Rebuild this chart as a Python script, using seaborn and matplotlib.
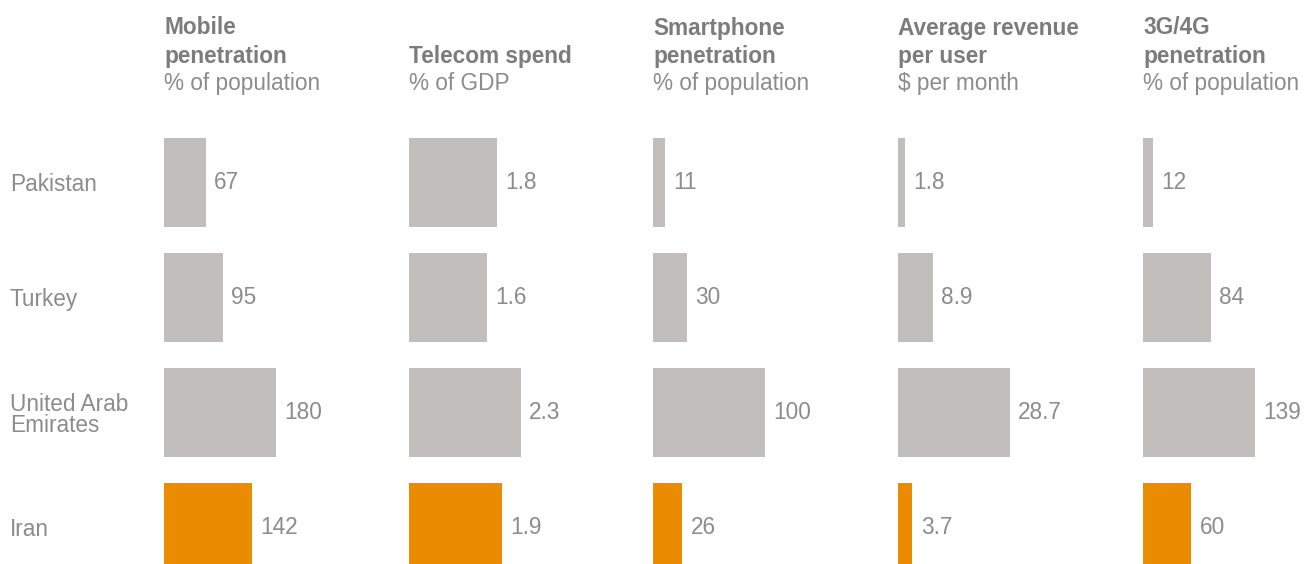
import matplotlib
matplotlib.use("Agg")
import matplotlib.pyplot as plt
import matplotlib.transforms as mtransforms
import pandas as pd
import seaborn as sns

# Data
countries = ["Pakistan", "Turkey", "United Arab\nEmirates", "Iran"]
mobile_penetration = [67, 95, 180, 142]
telecom_spend = [1.8, 1.6, 2.3, 1.9]
smartphone_penetration = [11, 30, 100, 26]
arpu = [1.8, 8.9, 28.7, 3.7]
g34_penetration = [12, 84, 139, 60]

titles_bold = [["Mobile", "penetration"], ["Telecom spend"], ["Smartphone", "penetration"],
               ["Average revenue", "per user"], ["3G/4G", "penetration"]]
titles_unit = ["% of population", "% of GDP", "% of population", "$ per month", "% of population"]
series = [mobile_penetration, telecom_spend, smartphone_penetration, arpu, g34_penetration]
formats = ["{:.0f}", "{:.1f}", "{:.0f}", "{:.1f}", "{:.0f}"]
highlight = "Iran"

sns.set_theme(style="white")
plt.rcParams["font.family"] = ["Liberation Sans", "DejaVu Sans"]

W, H = 1307, 564
fig = plt.figure(figsize=(W / 100, H / 100), dpi=100)
fig.patch.set_facecolor("white")

GRAY_BAR = "#C0BFBD"
ORANGE = "#EB8C00"
TITLE_C = "#7C7C7C"
TEXT_C = "#8C8C8C"
FS = 16.3

panel_x = [164, 409, 653, 898, 1143]
bar_span = 112          # pixel length of the longest bar in each panel
row_top, row_bottom = 125, 585  # pixel extent of the four category rows

palette = {c: (ORANGE if c == highlight else GRAY_BAR) for c in countries}

axes = []
for k, (vals, fmt) in enumerate(zip(series, formats)):
    x0 = panel_x[k]
    ax = fig.add_axes([x0 / W, 1 - row_bottom / H, bar_span / W, (row_bottom - row_top) / H])
    df = pd.DataFrame({"country": countries, "value": vals})
    sns.barplot(data=df, x="value", y="country", hue="country", palette=palette,
                order=countries, hue_order=countries, dodge=False, legend=False,
                width=0.774, saturation=1, ax=ax, orient="h", linewidth=0)
    ax.set_xlim(0, max(vals))
    ax.set_ylim(3.5, -0.5)
    ax.axis("off")
    for i, v in enumerate(vals):
        ax.annotate(fmt.format(v), xy=(v, i), xytext=(6.0, 0), textcoords="offset points",
                    ha="left", va="center", fontsize=FS, color=TEXT_C, annotation_clip=False)

    # Column heading: bold lines stacked above the unit line
    fig.text(x0 / W, 1 - 90 / H, titles_unit[k], ha="left", va="baseline",
             fontsize=FS, color=TEXT_C)
    for j, line in enumerate(reversed(titles_bold[k])):
        yb = 62.5 - 28 * j
        fig.text(x0 / W, 1 - yb / H, line, ha="left", va="baseline",
                 fontsize=FS, color=TITLE_C, fontweight="bold")
    axes.append(ax)

# Row labels on the left
trans = mtransforms.blended_transform_factory(fig.transFigure, axes[0].transData)
for i, c in enumerate(countries):
    fig.text(10 / W, i + 0.02, c, transform=trans, ha="left", va="center",
             fontsize=FS, color=TEXT_C, linespacing=0.9)

fig.savefig("out.png", dpi=100, facecolor="white")
